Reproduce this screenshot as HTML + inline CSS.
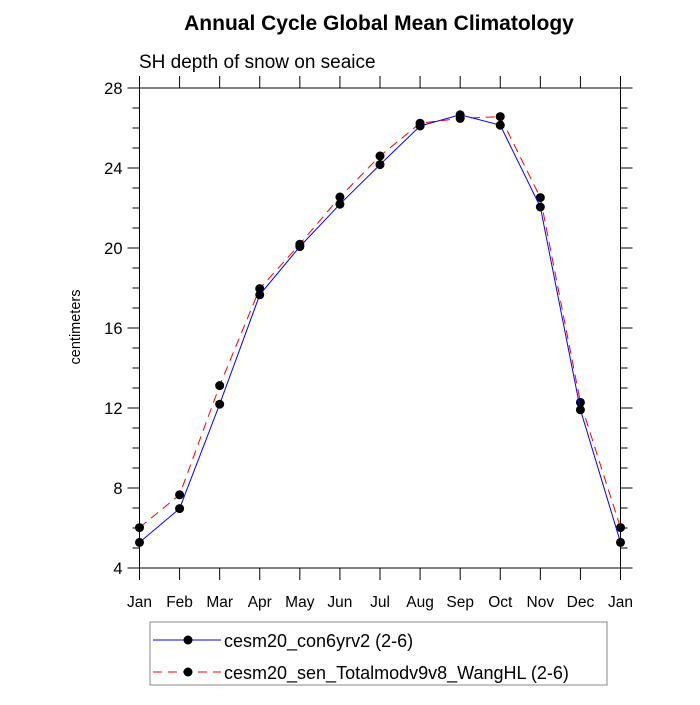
<!DOCTYPE html>
<html><head><meta charset="utf-8"><style>
body{margin:0;background:#fff}
svg text{font-family:"Liberation Sans",sans-serif}
</style></head><body>
<svg id="chart" width="700" height="700" xmlns="http://www.w3.org/2000/svg">
<text x="379" y="30" text-anchor="middle" font-size="21" font-weight="bold">Annual Cycle Global Mean Climatology</text>
<text x="139" y="68" font-size="19">SH depth of snow on seaice</text>
<text transform="translate(80,327) rotate(-90)" text-anchor="middle" font-size="14.5">centimeters</text>
<g id="axes"></g>
<g id="series"></g>
<g>
<rect x="150" y="622" width="457" height="63" fill="none" stroke="#888"/>
<g>
<line x1="153" y1="640" x2="221" y2="640" stroke="blue" stroke-width="1"/>
<circle cx="188" cy="640" r="4.5" fill="#000"/>
<text x="224" y="647" font-size="18">cesm20_con6yrv2 (2-6)</text></g>
<g>
<line x1="153" y1="672" x2="221" y2="672" stroke="red" stroke-width="1" stroke-dasharray="9,6"/>
<circle cx="188" cy="672" r="4.5" fill="#000"/>
<text x="224" y="679" font-size="18">cesm20_sen_Totalmodv9v8_WangHL (2-6)</text></g>
</g>
</svg>
<script>
const months=["Jan","Feb","Mar","Apr","May","Jun","Jul","Aug","Sep","Oct","Nov","Dec","Jan"];
const controlValues=[5.28,6.97,12.19,17.66,20.07,22.19,24.17,26.10,26.66,26.14,22.05,11.91,5.28];
const sensValues=[6.02,7.66,13.12,17.97,20.19,22.55,24.60,26.24,26.48,26.57,22.52,12.28,6.02];
const yTicks=[4,8,12,16,20,24,28];
const yMin=4,yMax=28;
const L=139.5,R=620.5,T=88,B=568;
const X=i=>L+(R-L)*i/(months.length-1);
const Y=v=>B-(v-yMin)/(yMax-yMin)*(B-T);
const NS="http://www.w3.org/2000/svg";
function mk(tag,attrs,parent){const e=document.createElementNS(NS,tag);for(const k in attrs)e.setAttribute(k,attrs[k]);parent.appendChild(e);return e;}
const ax=document.getElementById('axes');
const fr=mk('rect',{x:L,y:T,width:R-L,height:B-T,fill:'none',stroke:'#000','stroke-width':1},ax);


months.forEach((m,i)=>{
  const x=X(i);
  mk('line',{x1:x,y1:B,x2:x,y2:B+12,stroke:'#000'},ax);
  mk('line',{x1:x,y1:T,x2:x,y2:T-12,stroke:'#000'},ax);
  const t=mk('text',{x:x,y:B+39,'text-anchor':'middle','font-size':15.5},ax);
  t.textContent=m;
  
  
});
for(let v=yMin;v<=yMax;v+=1){
  const y=Y(v),major=(v%4===0);
  const len=major?12:7;
  mk('line',{x1:L,y1:y,x2:L-len,y2:y,stroke:'#000'},ax);
  mk('line',{x1:R,y1:y,x2:R+len,y2:y,stroke:'#000'},ax);
}
yTicks.forEach(v=>{
  const t=mk('text',{x:L-17,y:Y(v)+6,'text-anchor':'end','font-size':16.5},ax);
  t.textContent=v;
  
  
});
const sg=document.getElementById('series');
function drawSeries(vals,color,dash,name){
  const g=mk('g',{},sg);
  
  
  const p=mk('polyline',{points:vals.map((v,i)=>X(i)+','+Y(v)).join(' '),fill:'none',stroke:color,'stroke-width':1},g);
  if(dash)p.setAttribute('stroke-dasharray',dash);
  vals.forEach((v,i)=>{
    const c=mk('circle',{cx:X(i),cy:Y(v),r:4.5,fill:'#000'},g);
    
    
  });
}
drawSeries(sensValues,'red','9,6','series-sensitivity');
drawSeries(controlValues,'blue',null,'series-control');
</script>
</body></html>
